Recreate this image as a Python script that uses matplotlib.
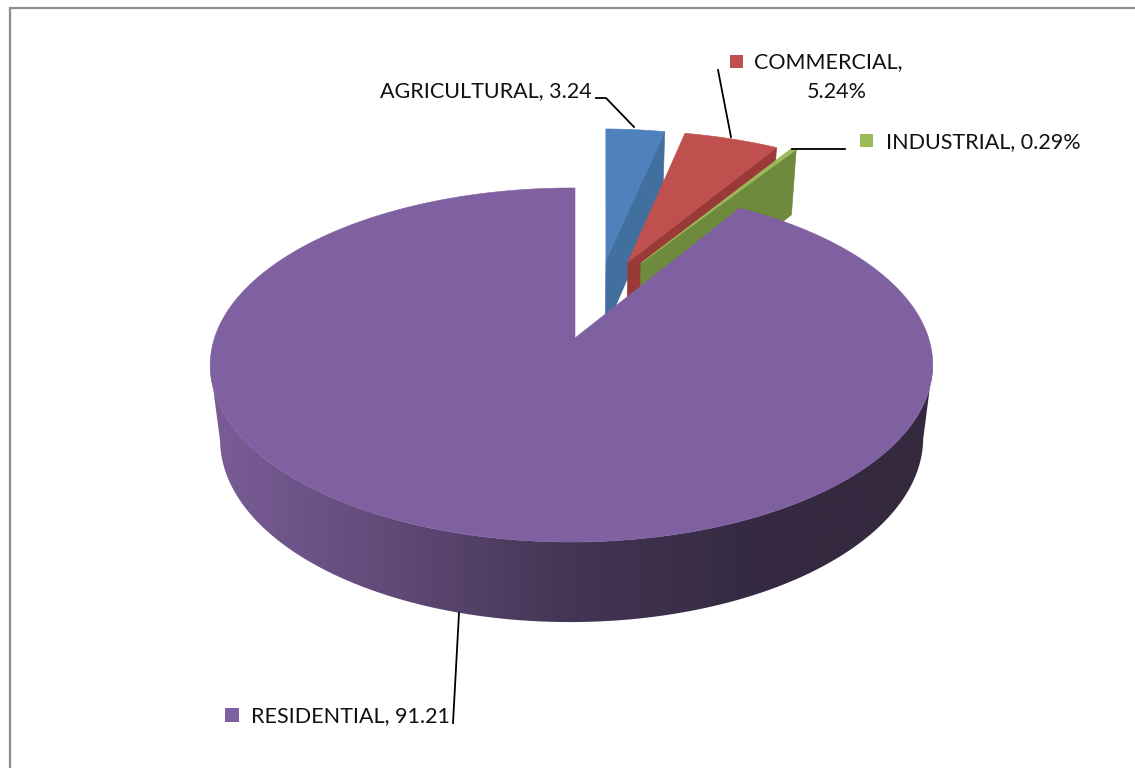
import numpy as np
import matplotlib
matplotlib.use("Agg")
import matplotlib.pyplot as plt
from matplotlib.colors import LinearSegmentedColormap
from matplotlib.patches import Polygon, Rectangle

# Land use shares, clockwise from 12 o'clock
categories = ['AGRICULTURAL', 'COMMERCIAL', 'INDUSTRIAL', 'RESIDENTIAL']
shares = [3.24, 5.24, 0.29, 91.21]

top_colors = ['#4F81BD', '#C0504D', '#9BBB59', '#7F60A0']
side_colors = ['#41709E', '#9A3A38', '#6E8A3C', '#35293F']
# How far each slice is pulled out of the pie, in disk units
apex_u = [0.093, 0.159, 0.198, 0.0]
rim_u = [0.106, 0.175, 0.225, 0.0]
apex_v = [0.484, 0.471, 0.464, 0.0]

# Perspective of the pie in pixel space
CX, CY = 575, 338
R_X, R_Y = 357, 172.9
K_V, K_U, K_Z = 0.1525, 0.0097, 0.027
T_Z = 75.5


def project(u, v, z=0.0):
    w = 1 + K_V * v + K_U * u + K_Z * z
    return CX + R_X * u / w, CY + (T_Z * z - R_Y * v) / w


def arc_points(start, end, du, dv, z=0.0, n=120):
    t = np.radians(np.linspace(start, end, n))
    return np.column_stack(project(du + np.sin(t), dv + np.cos(t), z))


plt.rcParams['font.family'] = 'Lato'

fig = plt.figure(figsize=(11.35, 7.68), dpi=100)
ax = fig.add_axes([0, 0, 1, 1])
ax.axis('off')

# chart area border, only the left and top edges are in view
ax.plot([10, 10, 1135], [768, 8, 8], color='#8E8E8E', lw=1.6, solid_joinstyle='miter', zorder=1)

edges = np.concatenate([[0], np.cumsum(shares)]) / np.sum(shares) * 360

# pulled-out slices first, the big one goes over them
for i in range(3):
    start, end = edges[i], edges[i + 1]
    end_t = np.radians(end)
    rim_end_u = rim_u[i] + np.sin(end_t)
    rim_end_v = apex_v[i] + np.cos(end_t)
    # cut face on the clockwise side
    face = [project(apex_u[i], apex_v[i]),
            project(rim_end_u, rim_end_v),
            project(rim_end_u, rim_end_v, 1.0),
            project(apex_u[i], apex_v[i], 1.0)]
    ax.add_patch(Polygon(face, closed=True, fc=side_colors[i], ec=side_colors[i], lw=0.4, zorder=2 + i))
    top = np.vstack([project(apex_u[i], apex_v[i]), arc_points(start, end, rim_u[i], apex_v[i])])
    ax.add_patch(Polygon(top, closed=True, fc=top_colors[i], ec=top_colors[i], lw=0.4, zorder=2.5 + i))

# rim of the residential slice, a left to right gradient clipped to the band
# the band runs between the two points where the rim turns out of sight
rim_cmap = LinearSegmentedColormap.from_list(
    'rim', ['#7B5D98', '#614A78', '#433553', '#352A42', '#35293F'])
rim_top = arc_points(99, 261, 0, 0, n=400)
rim_base = arc_points(99, 261, 0, 0, z=1.0, n=400)
band = Polygon(np.vstack([rim_top, rim_base[::-1]]), closed=True, transform=ax.transData)
rim_img = ax.imshow(np.linspace(0, 1, 512).reshape(1, -1), cmap=rim_cmap, aspect='auto',
                    extent=(205, 940, 640, 300), zorder=6, interpolation='bilinear')
rim_img.set_clip_path(band)

top = np.vstack([project(0, 0), arc_points(edges[3], edges[4], 0, 0, n=500)])
ax.add_patch(Polygon(top, closed=True, fc=top_colors[3], ec=top_colors[3], lw=0.4, zorder=7))

ax.set_xlim(0, 1135)
ax.set_ylim(768, 0)

# leader lines
leader_color = '#000000'
ax.plot([596, 606, 634], [98, 98, 127], color=leader_color, lw=1.3, zorder=8)
ax.plot([718, 731], [70, 137], color=leader_color, lw=1.3, zorder=8)
ax.plot([792, 845], [149, 149], color=leader_color, lw=1.3, zorder=8)
ax.plot([459, 453], [613, 723], color=leader_color, lw=1.3, zorder=8)

# data labels
label_size = 15.5
text_color = '#111111'
ax.text(380, 91, f'{categories[0]}, {shares[0]}', fontsize=label_size, color=text_color, va='center', ha='left')
ax.text(754, 62, f'{categories[1]},', fontsize=label_size, color=text_color, va='center', ha='left')
ax.text(837, 92, f'{shares[1]}%', fontsize=label_size, color=text_color, va='center', ha='center')
ax.text(886, 142, f'{categories[2]}, {shares[2]}%', fontsize=label_size, color=text_color, va='center', ha='left')
ax.text(251, 716, f'{categories[3]}, {shares[3]}', fontsize=label_size, color=text_color, va='center', ha='left')

# legend keys inside the labels
ax.add_patch(Rectangle((730, 55), 13, 13, fc=top_colors[1], ec='none'))
ax.add_patch(Rectangle((860, 134), 13, 13, fc=top_colors[2], ec='none'))
ax.add_patch(Rectangle((225, 708), 14, 14, fc=top_colors[3], ec='none'))

fig.savefig('out.png', dpi=100)
